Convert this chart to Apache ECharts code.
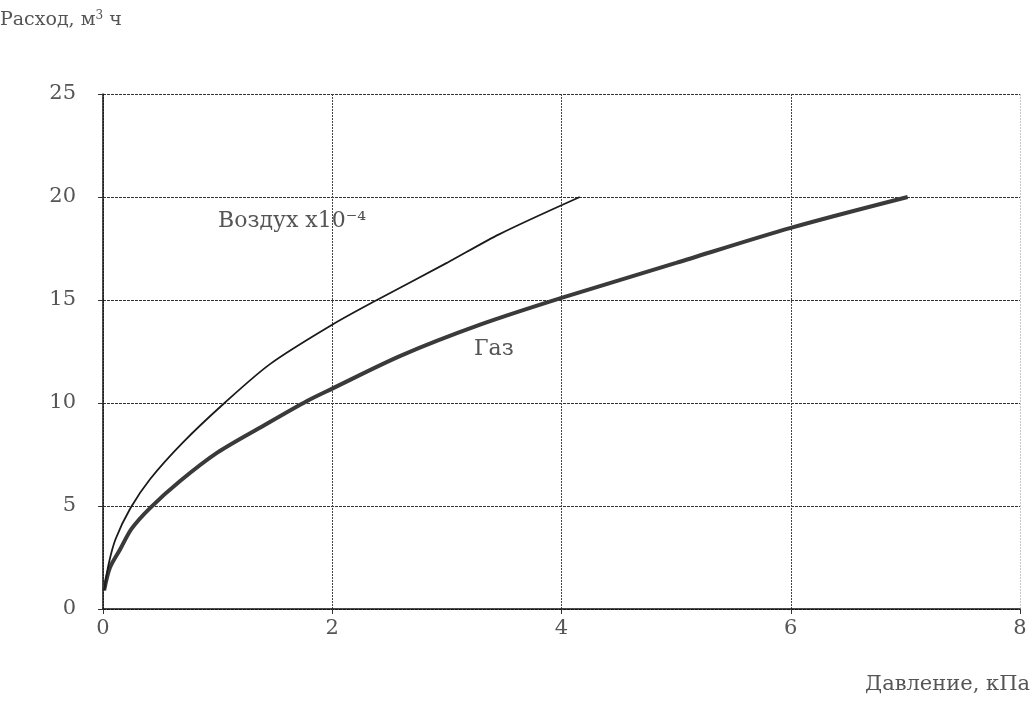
<!DOCTYPE html>
<html><head><meta charset="utf-8">
<script src="https://cdn.jsdelivr.net/npm/echarts@6/dist/echarts.min.js"></script>
<style>html,body{margin:0;padding:0;background:#fff}#c{width:1033px;height:704px}</style>
</head><body><div id="c"></div>
<script>
const xTicks = [0, 2, 4, 6, 8];
const yTicks = [0, 5, 10, 15, 20, 25];
const gasX = [0.01, 0.06, 0.15, 0.25, 0.41, 0.67, 1.0, 1.4, 1.78, 2.0, 2.6, 3.29, 4.0, 5.0, 6.0, 7.02];
const gasY = [0.9, 2.0, 2.9, 3.9, 4.9, 6.2, 7.6, 8.9, 10.1, 10.7, 12.3, 13.8, 15.1, 16.8, 18.5, 20.0];
const airX = [0.01, 0.05, 0.11, 0.24, 0.41, 0.7, 1.06, 1.46, 2.0, 2.39, 3.0, 3.46, 4.16];
const airY = [0.9, 2.2, 3.4, 4.9, 6.3, 8.1, 10.0, 11.9, 13.8, 15.0, 16.8, 18.2, 20.0];
const yAxisTitle = 'Расход, м{s|3} ч';
const xAxisTitle = 'Давление, кПа';
const airLabel = 'Воздух x10⁻⁴';
const gasLabel = 'Газ';

const font = 'DejaVu Serif';
const chart = echarts.init(document.getElementById('c'));
chart.setOption({
  animation: false,
  backgroundColor: '#fff',
  grid: { left: 103, right: 13, top: 94, bottom: 95 },
  xAxis: {
    type: 'value', min: 0, max: 8, interval: 2,
    axisLine: { show: true, onZero: false, lineStyle: { color: '#111', width: 1.5 } },
    axisTick: { show: true, length: 5, lineStyle: { color: '#333' } },
    axisLabel: { color: '#555', fontFamily: font, fontSize: 21, margin: 9 },
    splitLine: { show: true, lineStyle: { color: ['#444', '#444', '#444', '#444', '#c8c8c8'], width: 1, type: [2, 1] } }
  },
  yAxis: {
    type: 'value', min: 0, max: 25, interval: 5,
    axisLine: { show: true, lineStyle: { color: '#111', width: 1.5 } },
    axisTick: { show: true, length: 5, lineStyle: { color: '#333' } },
    axisLabel: { color: '#555', fontFamily: font, fontSize: 21, margin: 27 },
    splitLine: { show: true, lineStyle: { color: '#333', width: 1, type: [3, 1] } }
  },
  series: [
    { type: 'line', smooth: 0.3, symbol: 'none', data: gasX.map((x, i) => [x, gasY[i]]),
      lineStyle: { color: '#3a3a3a', width: 4 } },
    { type: 'line', smooth: 0.3, symbol: 'none', data: airX.map((x, i) => [x, airY[i]]),
      lineStyle: { color: '#1a1a1a', width: 1.8 } }
  ],
  graphic: [
    { type: 'text', left: 0, top: 10, style: { text: yAxisTitle, fontFamily: font, fontSize: 19, fill: '#555',
        rich: { s: { fontSize: 12, verticalAlign: 'top', padding: [0,0,8,0], fontFamily: font, fill: '#555' } } } },
    { type: 'text', right: 3, top: 674, style: { text: xAxisTitle, fontFamily: font, fontSize: 21, fill: '#555' } },
    { type: 'text', left: 218, top: 210, style: { text: airLabel, fontFamily: font, fontSize: 22, fill: '#555' } },
    { type: 'text', left: 474, top: 338, style: { text: gasLabel, fontFamily: font, fontSize: 22, fill: '#555' } }
  ]
});
</script></body></html>
